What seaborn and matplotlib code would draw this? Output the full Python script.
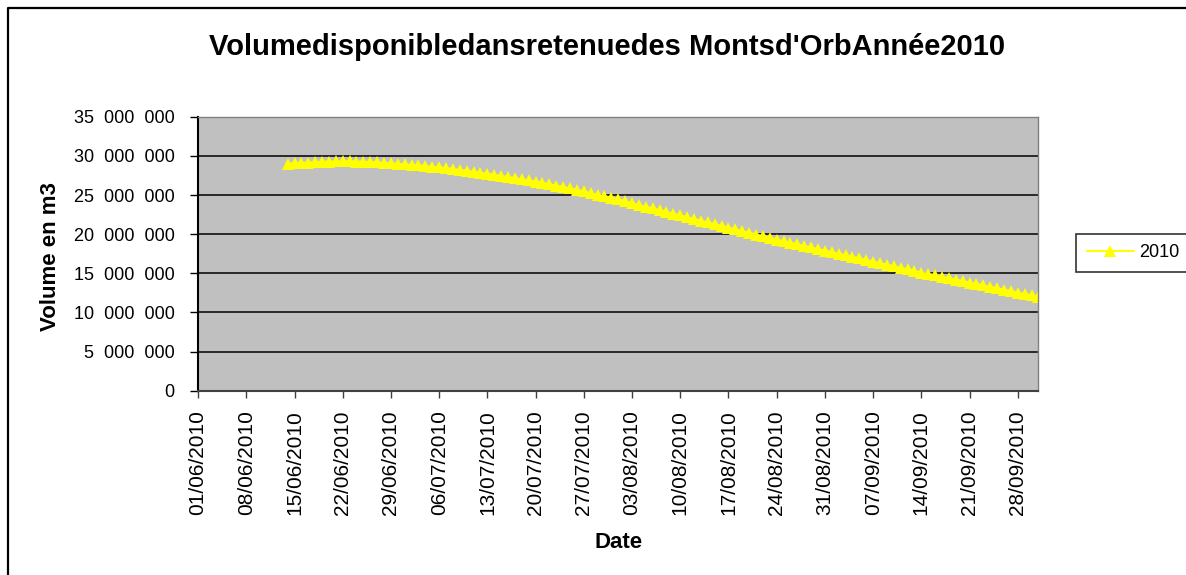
import matplotlib
matplotlib.use("Agg")
import matplotlib.pyplot as plt
import matplotlib.dates as mdates
from matplotlib.lines import Line2D
import seaborn as sns
import pandas as pd

# Données : volume journalier (en millions de m3), du 14/06/2010 au 01/10/2010
date_debut = "2010-06-14"
date_fin = "2010-10-01"
volume_juin = [29.00, 29.05, 29.10, 29.15, 29.20, 29.25, 29.28, 29.30, 29.30, 29.30,
               29.28, 29.25, 29.22, 29.18, 29.12, 29.05, 28.98]
volume_juillet = [28.92, 28.85, 28.78, 28.70, 28.62, 28.52, 28.42, 28.32, 28.22, 28.10,
                  27.98, 27.85, 27.72, 27.58, 27.45, 27.30, 27.16, 27.02, 26.87, 26.72,
                  26.55, 26.38, 26.20, 26.02, 25.85, 25.65, 25.45, 25.25, 25.05, 24.85,
                  24.65]
volume_aout = [24.45, 24.20, 23.95, 23.72, 23.50, 23.28, 23.06, 22.85, 22.62, 22.40,
               22.18, 21.95, 21.72, 21.50, 21.28, 21.05, 20.82, 20.60, 20.38, 20.17,
               19.95, 19.74, 19.52, 19.30, 19.10, 18.90, 18.70, 18.50, 18.30, 18.10,
               17.90]
volume_septembre = [17.70, 17.50, 17.30, 17.10, 16.90, 16.70, 16.50, 16.30, 16.10, 15.90,
                    15.70, 15.50, 15.30, 15.10, 14.92, 14.74, 14.55, 14.37, 14.18, 14.00,
                    13.82, 13.64, 13.46, 13.28, 13.10, 12.92, 12.72, 12.52, 12.35, 12.18]
volume_octobre = [12.00]

titre = "Volumedisponibledansretenuedes Montsd'OrbAnnée2010"
serie = "2010"

dates = pd.date_range(date_debut, date_fin, freq="D")
volumes = [v * 1e6 for v in volume_juin + volume_juillet + volume_aout
           + volume_septembre + volume_octobre]
df = pd.DataFrame({"Date": dates, "Volume": volumes})

sns.set_style("white")
plt.rcParams['font.family'] = ['Liberation Sans', 'DejaVu Sans']
plt.rcParams['text.color'] = 'black'
plt.rcParams['axes.labelcolor'] = 'black'
plt.rcParams['xtick.color'] = 'black'
plt.rcParams['ytick.color'] = 'black'

fig = plt.figure(figsize=(11.86, 5.75), dpi=100)
ax = fig.add_axes([0.167, 0.3205, 0.7086, 0.4765])
ax.set_facecolor('#C0C0C0')

# Cadre extérieur du graphique (seuls les bords gauche et haut sont visibles)
x0, y1 = 8 / 1186, 1 - 8 / 575
fig.add_artist(Line2D([x0, x0, 1.05], [-0.05, y1, y1], transform=fig.transFigure,
                      color='black', linewidth=1.6))

# Courbe avec triangles jaunes
sns.lineplot(data=df, x="Date", y="Volume", ax=ax, color='#FFFF00', linewidth=1.5,
             marker='^', markersize=9, markeredgewidth=0, label=serie)

# Axes
ax.set_xlim(pd.Timestamp("2010-06-01"), pd.Timestamp("2010-10-01"))
ax.set_ylim(0, 35e6)
ax.set_yticks([i * 5e6 for i in range(8)])
ax.yaxis.set_major_formatter(plt.FuncFormatter(lambda v, p: f"{int(v):,}".replace(",", "  ")))
ax.set_xticks(pd.date_range("2010-06-01", "2010-09-28", freq="7D"))
ax.xaxis.set_major_formatter(mdates.DateFormatter("%d/%m/%Y"))
plt.setp(ax.get_xticklabels(), rotation=90)

ax.grid(axis='y', color='black', linewidth=1.1)
ax.grid(axis='x', visible=False)
ax.set_axisbelow(True)

for s in ['top', 'right']:
    ax.spines[s].set_color('#808080')
    ax.spines[s].set_linewidth(1)
ax.spines['left'].set_color('black')
ax.spines['left'].set_linewidth(1.5)
ax.spines['bottom'].set_color('#404040')
ax.spines['bottom'].set_linewidth(1.5)

ax.tick_params(axis='y', direction='out', length=6, width=1, colors='black',
               labelsize=13, pad=11, left=True)
ax.tick_params(axis='x', direction='out', length=5, width=1, colors='#404040',
               labelcolor='black', labelsize=15, pad=9, bottom=True)

# Titres
ax.set_ylabel("Volume en m3", fontsize=16, fontweight='bold')
ax.yaxis.set_label_coords(-0.163, 0.49)
ax.set_xlabel("Date", fontsize=16, fontweight='bold')
ax.xaxis.set_label_coords(0.5, -0.515)
fig.text(0.512, 1 - 47 / 575, titre, ha='center', va='center',
         fontsize=21, fontweight='bold')

# Légende
leg = ax.legend(loc='center left', bbox_to_anchor=(1076 / 1186, 1 - 253 / 575),
                bbox_transform=fig.transFigure, frameon=True, fancybox=False,
                edgecolor='black', fontsize=13, handlelength=2.6, borderpad=0.6,
                borderaxespad=0, handletextpad=0.3)
leg.get_frame().set_linewidth(1.2)

fig.savefig("out.png", dpi=100)
